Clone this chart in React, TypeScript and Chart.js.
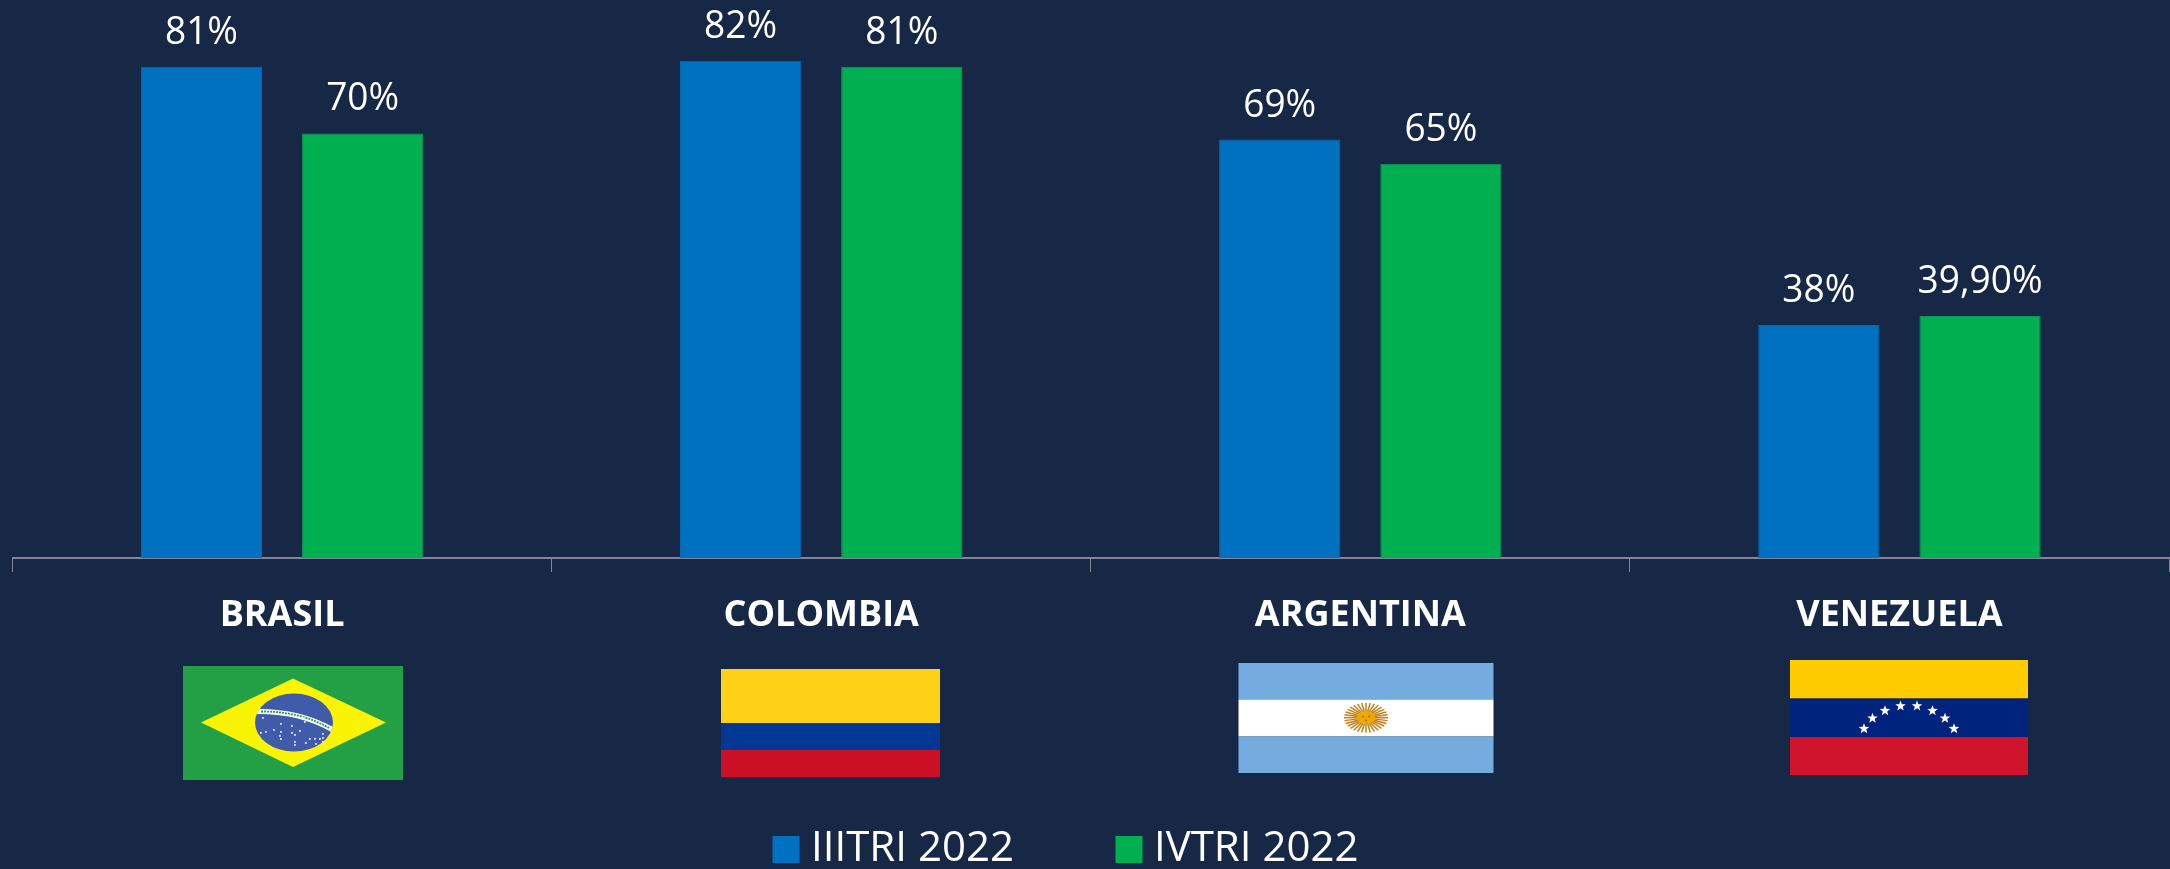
import React, { useEffect, useRef } from "react";
import { Chart, registerables } from "chart.js";

Chart.register(...registerables);

const categories = ["BRASIL", "COLOMBIA", "ARGENTINA", "VENEZUELA"];
const seriesNames = ["IIITRI 2022", "IVTRI 2022"];
const q3Values = [81, 82, 69, 38.4];
const q4Values = [70, 81, 65, 39.9];
const q3Labels = ["81%", "82%", "69%", "38%"];
const q4Labels = ["70%", "81%", "65%", "39,90%"];
const seriesColors = ["#0070C0", "#00B050"];
const seriesEdges = ["#0A68B2", "#0B9A58"];

const BG = "#172846";
const FONT = '"Open Sans", sans-serif';

const valueLabels = {
  id: "valueLabels",
  afterDatasetsDraw(chart: any) {
    const { ctx } = chart;
    const all = [q3Labels, q4Labels];
    ctx.save();
    ctx.fillStyle = "#ffffff";
    ctx.font = `39px ${FONT}`;
    ctx.textAlign = "center";
    ctx.textBaseline = "alphabetic";
    all.forEach((labels, d) => {
      chart.getDatasetMeta(d).data.forEach((bar: any, i: number) => {
        ctx.save();
        ctx.translate(bar.x, bar.y - 23);
        ctx.scale(0.95, 1);
        ctx.fillText(labels[i], 0, 0);
        ctx.restore();
      });
    });
    ctx.restore();
  },
};

function rect(ctx: any, c: string, x: number, y: number, w: number, h: number) {
  ctx.fillStyle = c;
  ctx.fillRect(x, y, w, h);
}

function brazil(ctx: any) {
  rect(ctx, "#239F46", 183, 666, 220, 114);
  ctx.fillStyle = "#F9F406";
  ctx.beginPath();
  ctx.moveTo(201, 722.5);
  ctx.lineTo(293, 678.5);
  ctx.lineTo(386, 722.5);
  ctx.lineTo(293, 767);
  ctx.closePath();
  ctx.fill();
  ctx.fillStyle = "#3F5BA9";
  ctx.beginPath();
  ctx.ellipse(294, 722.5, 39, 29, 0, 0, Math.PI * 2);
  ctx.fill();
  ctx.save();
  ctx.beginPath();
  ctx.ellipse(294, 722.5, 39, 29, 0, 0, Math.PI * 2);
  ctx.clip();
  ctx.strokeStyle = "#ffffff";
  ctx.lineWidth = 5;
  ctx.beginPath();
  ctx.moveTo(257, 711.5);
  ctx.quadraticCurveTo(300, 711, 333, 730);
  ctx.stroke();
  ctx.strokeStyle = "#239F46";
  ctx.lineWidth = 1.8;
  ctx.setLineDash([2, 1]);
  ctx.beginPath();
  ctx.moveTo(261, 711.5);
  ctx.quadraticCurveTo(300, 711, 330, 728.5);
  ctx.stroke();
  ctx.restore();
  ctx.fillStyle = "#dfe6f5";
  const stars = [[262,717],[265,731],[260,732],[273,729],[280,731],[280,723],[279,735],[280,738],[291,725],[291,732],[294,734],[294,741],[299,730],[302,717],[304,721],[305,742],[294,744],[314,738],[309,738],[322,733],[322,737],[319,738],[322,741],[315,743]];
  stars.forEach(([x, y]) => ctx.fillRect(x, y, 1.8, 1.8));
}

function colombia(ctx: any) {
  rect(ctx, "#FDD216", 721, 669, 219, 54);
  rect(ctx, "#003893", 721, 723, 219, 27);
  rect(ctx, "#CC1126", 721, 750, 219, 27);
}

function argentina(ctx: any) {
  rect(ctx, "#74ACDF", 1238.5, 663, 255, 36.5);
  rect(ctx, "#FFFFFF", 1238.5, 699.5, 255, 37);
  rect(ctx, "#74ACDF", 1238.5, 736.5, 255, 36.5);
  const cx = 1366;
  const cy = 717.7;
  ctx.strokeStyle = "#C47F17";
  ctx.lineWidth = 1.5;
  for (let i = 0; i < 32; i++) {
    const a = (i / 32) * Math.PI * 2;
    ctx.beginPath();
    ctx.moveTo(cx + Math.cos(a) * 8, cy + Math.sin(a) * 6);
    ctx.lineTo(cx + Math.cos(a) * 22, cy + Math.sin(a) * 15);
    ctx.stroke();
  }
  ctx.fillStyle = "#EFA800";
  ctx.beginPath();
  ctx.ellipse(cx, cy, 9.5, 6.5, 0, 0, Math.PI * 2);
  ctx.fill();
  ctx.fillStyle = "#A86E10";
  ctx.fillRect(cx - 4, cy - 2, 2, 1.5);
  ctx.fillRect(cx + 2, cy - 2, 2, 1.5);
  ctx.fillRect(cx - 1, cy + 2, 2, 1.5);
}

function star(ctx: any, x: number, y: number, r: number) {
  ctx.beginPath();
  for (let i = 0; i < 10; i++) {
    const a = -Math.PI / 2 + (i * Math.PI) / 5;
    const q = i % 2 ? r * 0.42 : r;
    ctx.lineTo(x + Math.cos(a) * q, y + Math.sin(a) * q);
  }
  ctx.closePath();
  ctx.fill();
}

function venezuela(ctx: any) {
  rect(ctx, "#FFCC00", 1790, 660, 238, 38.5);
  rect(ctx, "#00247D", 1790, 698.5, 238, 38.5);
  rect(ctx, "#CF142B", 1790, 737, 238, 38);
  ctx.fillStyle = "#ffffff";
  [[1864,728.7],[1872.5,718.3],[1885,710.7],[1900.5,706],[1917,706],[1932.5,710.7],[1945,718.3],[1954,728.7]].forEach(([x, y]) =>
    star(ctx, x, y, 5.5)
  );
}

const flags = {
  id: "flags",
  afterDraw(chart: any) {
    const { ctx } = chart;
    ctx.save();
    brazil(ctx);
    colombia(ctx);
    argentina(ctx);
    venezuela(ctx);
    ctx.restore();
  },
};

const legendShift = {
  id: "legendShift",
  afterLayout(chart: any) {
    chart.legend.left -= 20.5;
    chart.legend.right -= 20.5;
  },
};

export default function App() {
  const ref = useRef<HTMLCanvasElement>(null);
  useEffect(() => {
    document.body.style.margin = "0";
    document.body.style.background = BG;
    const chart = new Chart(ref.current!, {
      type: "bar",
      data: {
        labels: categories,
        datasets: [
          { label: seriesNames[0], data: q3Values, backgroundColor: seriesColors[0], borderColor: seriesEdges[0], borderWidth: 1, categoryPercentage: 0.598, barPercentage: 0.752 },
          { label: seriesNames[1], data: q4Values, backgroundColor: seriesColors[1], borderColor: seriesEdges[1], borderWidth: 1, categoryPercentage: 0.598, barPercentage: 0.752 },
        ],
      },
      plugins: [valueLabels, flags, legendShift, {
        id: "bg",
        beforeDraw(c: any) {
          c.ctx.fillStyle = BG;
          c.ctx.fillRect(0, 0, c.width, c.height);
        },
      }],
      options: {
        responsive: false,
        animation: false,
        layout: { padding: { left: 12.5, right: 1, top: 0, bottom: -11.5 } },
        plugins: {
          tooltip: { enabled: false },
          title: { display: false },
          legend: {
            display: true,
            position: "bottom",
            labels: {
              color: "#ffffff",
              font: { family: FONT, size: 42 },
              boxWidth: 8,
              boxHeight: 8,
              padding: 111,
              generateLabels(c: any) {
                return c.data.datasets.map((d: any, i: number) => ({
                  text: d.label,
                  fillStyle: d.backgroundColor,
                  strokeStyle: d.backgroundColor,
                  lineWidth: 19,
                  fontColor: "#ffffff",
                  datasetIndex: i,
                }));
              },
            },
          },
        },
        scales: {
          x: {
            grid: { drawOnChartArea: false, drawTicks: true, tickLength: 14, color: "#7f8694", offset: true },
            border: { color: "#7f8694", width: 2 },
            ticks: {
              color: "#ffffff",
              font: { family: FONT, size: 36, weight: "bold" },
              padding: 22,
              maxRotation: 0,
              autoSkip: false,
            },
            afterFit(scale: any) {
              scale.height = 159.5;
            },
          },
          y: { display: false, min: 0, max: 92 },
        },
      },
    } as any);
    return () => chart.destroy();
  }, []);
  return (
    <canvas ref={ref} width={2170} height={869} style={{ display: "block", position: "absolute", left: 0, top: 0 }} />
  );
}
